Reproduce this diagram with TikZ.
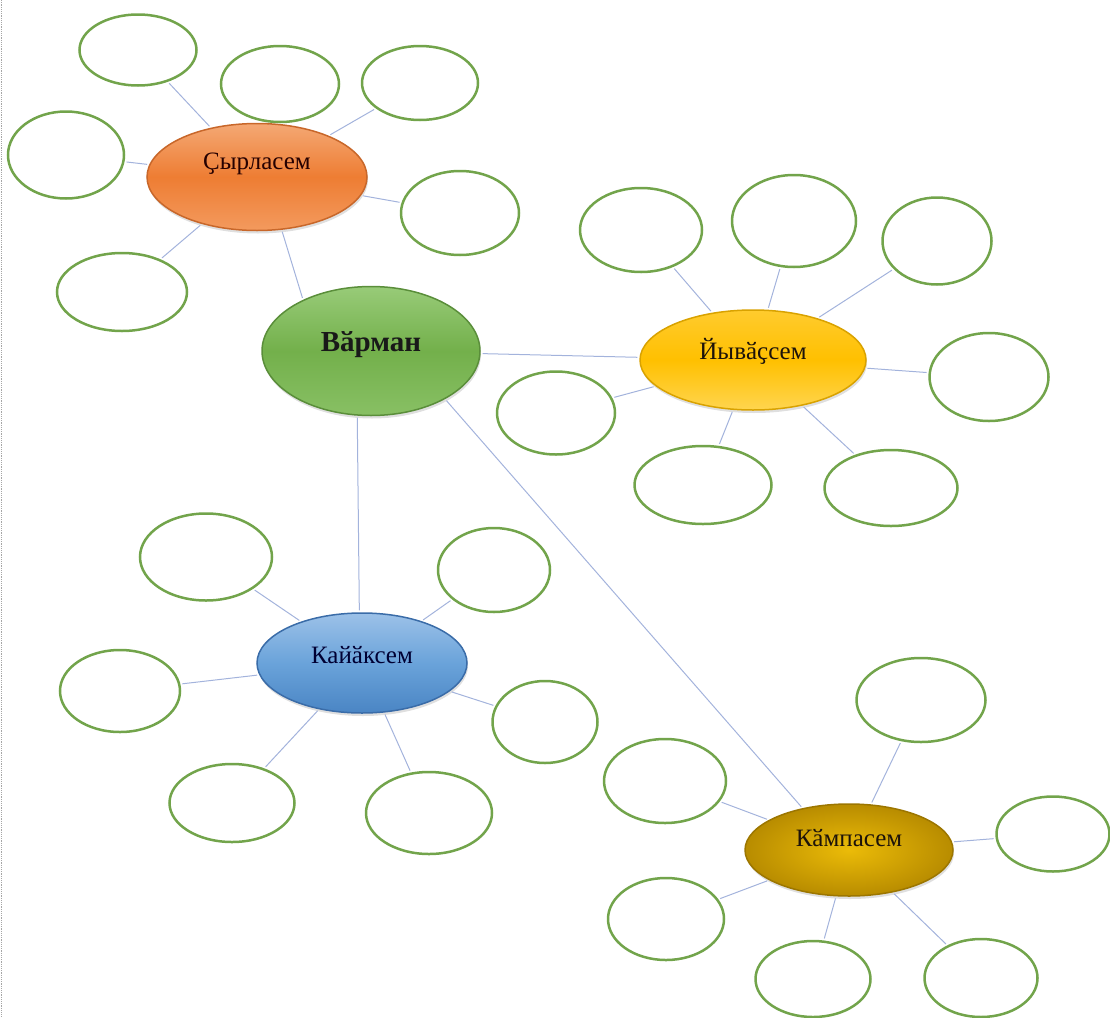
\documentclass[tikz,border=0pt]{standalone}
\usepackage{fontspec}
\setmainfont{Liberation Serif}
\usetikzlibrary{shapes.geometric,shadows}

\definecolor{leafgreen}{HTML}{72A44B}
\definecolor{linkblue}{HTML}{A3B3DC}
\definecolor{orgTop}{HTML}{F4A874}
\definecolor{orgMid}{HTML}{EE7D33}
\definecolor{orgBot}{HTML}{F39A5E}
\definecolor{orgEdge}{HTML}{C8672A}
\definecolor{grnTop}{HTML}{98CB78}
\definecolor{grnMid}{HTML}{73B04B}
\definecolor{grnBot}{HTML}{88C064}
\definecolor{grnEdge}{HTML}{5A8E3A}
\definecolor{ylwTop}{HTML}{FFCB2E}
\definecolor{ylwMid}{HTML}{FFC000}
\definecolor{ylwBot}{HTML}{FFD54F}
\definecolor{ylwEdge}{HTML}{D9A200}
\definecolor{bluTop}{HTML}{9CC1E8}
\definecolor{bluMid}{HTML}{6AA3DA}
\definecolor{bluBot}{HTML}{4A85C4}
\definecolor{bluEdge}{HTML}{3A6CA8}
\definecolor{gldIn}{HTML}{EBBB08}
\definecolor{gldOut}{HTML}{B88C00}
\definecolor{gldEdge}{HTML}{9C7600}

\tikzset{
  hub/.style={ellipse, inner sep=0pt, line width=1.5pt, text height=18pt,
    font=\fontsize{25}{30}\selectfont,
    drop shadow={opacity=0.25, shadow xshift=1pt, shadow yshift=-3pt}},
  leaf/.style={ellipse, draw=leafgreen, line width=2.5pt, fill=white, inner sep=0pt},
  link/.style={draw=linkblue, line width=1pt, shorten <=2pt, shorten >=2pt}
}

\begin{document}
\begin{tikzpicture}[x=1pt,y=-1pt]
\useasboundingbox (0,0) rectangle (1110,1017);
\draw[black!35, densely dotted, line width=1.2pt] (1.5,0) -- (1.5,1017);

% main topics
\node[hub, minimum width=218pt, minimum height=129pt, draw=grnEdge,
      top color=grnTop, bottom color=grnBot, middle color=grnMid,
      text=black!90, font=\fontsize{29}{34}\selectfont\bfseries,
      text height=20pt, text depth=20pt] (varm) at (371,351) {Вӑрман};
\node[hub, minimum width=220pt, minimum height=107pt, draw=orgEdge,
      top color=orgTop, bottom color=orgBot, middle color=orgMid,
      text=black!75!red!60!black, text depth=33pt] (syr) at (257,177) {Ҫырласем};
\node[hub, minimum width=226pt, minimum height=100pt, draw=ylwEdge,
      top color=ylwTop, bottom color=ylwBot, middle color=ylwMid,
      text=black!85!brown, text depth=19pt] (yyv) at (753,360) {Йывӑҫсем};
\node[hub, minimum width=210pt, minimum height=100pt, draw=bluEdge,
      top color=bluTop, bottom color=bluBot, middle color=bluMid,
      text=black!80!blue, text depth=17pt] (kay) at (362,663) {Кайӑксем};
\node[hub, minimum width=208pt, minimum height=92pt, draw=gldEdge,
      inner color=gldIn, outer color=gldOut,
      text=black!85!brown, text depth=25pt] (kamp) at (849,850) {Кӑмпасем};

% empty leaves
\foreach \x/\y/\w/\h [count=\n] in {138/50/117/71, 280/84/118/76, 420/83/116/74,
    66/155/116/87, 460/213/118/84, 122/292/130/78}
  \node[leaf, minimum width=\w pt, minimum height=\h pt] (s\n) at (\x,\y) {};
\foreach \x/\y/\w/\h [count=\n] in {641/230/122/84, 794/221/124/92, 937/241/109/87,
    989/377/119/88, 556/413/118/83, 703/485/137/78, 891/488/133/76}
  \node[leaf, minimum width=\w pt, minimum height=\h pt] (y\n) at (\x,\y) {};
\foreach \x/\y/\w/\h [count=\n] in {206/557/132/87, 494/570/112/84, 120/691/120/82,
    545/722/105/82, 232/803/125/78, 429/813/126/82}
  \node[leaf, minimum width=\w pt, minimum height=\h pt] (k\n) at (\x,\y) {};
\foreach \x/\y/\w/\h [count=\n] in {921/700/129/84, 665/781/122/84, 1053/834/113/75,
    666/919/116/82, 813/979/115/76, 981/978/113/78}
  \node[leaf, minimum width=\w pt, minimum height=\h pt] (m\n) at (\x,\y) {};

% links
\draw[link] (syr.295) -- (varm.143);
\draw[link] (varm) -- (yyv);
\draw[link] (varm.258) -- (kay.93);
\draw[link] (varm.327) -- (kamp.138);
\foreach \n in {1,...,6} \draw[link] (syr) -- (s\n);
\foreach \n in {1,...,7} \draw[link] (yyv) -- (y\n);
\foreach \n in {1,...,6} \draw[link] (kay) -- (k\n);
\foreach \n in {1,...,6} \draw[link] (kamp) -- (m\n);
\end{tikzpicture}
\end{document}
